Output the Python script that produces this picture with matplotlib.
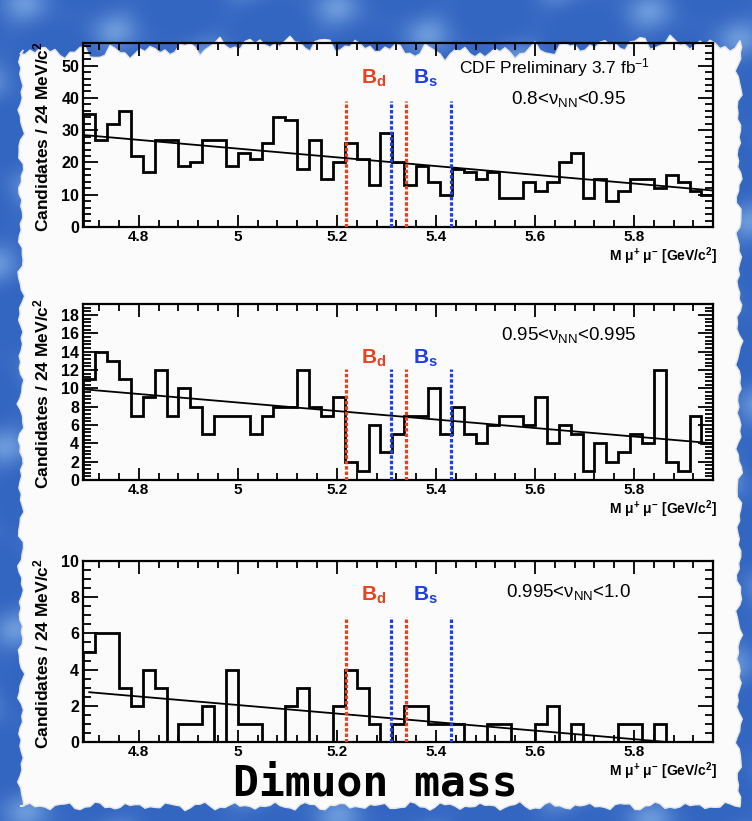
import numpy as np
import matplotlib
matplotlib.use("Agg")
import matplotlib.pyplot as plt
from matplotlib.ticker import MultipleLocator, FuncFormatter
from matplotlib.patches import Polygon

plt.rcParams['font.family'] = ['Liberation Sans', 'DejaVu Sans']
plt.rcParams['mathtext.fontset'] = 'custom'
plt.rcParams['mathtext.rm'] = 'Liberation Sans'
plt.rcParams['mathtext.it'] = 'Liberation Sans:italic'
plt.rcParams['mathtext.bf'] = 'Liberation Sans:bold'

# ---- data -----------------------------------------------------------------
mass_low = 4.688          # GeV/c^2, lower edge of the histogram
bin_width = 0.024         # 24 MeV/c^2 bins
n_bins = 53

counts_low = [35, 27, 32, 36, 22, 17, 27, 27, 19, 20, 27, 27, 19, 23, 21, 26, 34, 33,
              18, 27, 15, 20, 26, 21, 13, 29, 20, 13, 19, 14, 10, 18, 17, 15, 17, 9,
              9, 14, 11, 14, 20, 23, 9, 15, 8, 11, 15, 15, 12, 16, 14, 11, 10]
counts_mid = [11, 14, 13, 11, 7, 9, 12, 7, 10, 8, 5, 7, 7, 7, 5, 7, 8, 8, 12, 8, 7, 9,
              2, 1, 6, 3, 5, 7, 7, 10, 5, 8, 5, 4, 6, 7, 7, 6, 9, 4, 6, 5, 1, 4, 2, 3,
              5, 4, 12, 2, 1, 7, 4]
counts_high = [5, 6, 6, 3, 2, 4, 3, 0, 1, 1, 2, 0, 4, 1, 1, 0, 0, 2, 3, 0, 0, 2, 4, 3,
               1, 0, 1, 2, 2, 1, 1, 1, 0, 0, 1, 1, 0, 0, 1, 2, 0, 1, 0, 0, 0, 1, 1, 0,
               1, 0, 0, 0, 0]

# background fits: value at each end of the fitted mass range
fit_range_low = [4.688, 5.960]
fit_low = [28.5, 11.3]
fit_range_mid = [4.688, 5.960]
fit_mid = [9.9, 4.0]
fit_range_high = [4.700, 5.866]
fit_high = [2.75, 0.0]

bd_window = [5.219, 5.339]
bs_window = [5.310, 5.430]

nn_labels = [r"0.8<$\mathregular{\nu_{NN}}$<0.95",
             r"0.95<$\mathregular{\nu_{NN}}$<0.995",
             r"0.995<$\mathregular{\nu_{NN}}$<1.0"]
header = r"CDF Preliminary 3.7 fb$^{\mathregular{-1}}$"
footer = "Dimuon mass"

# ---- figure ----------------------------------------------------------------
W, H = 752, 821
fig = plt.figure(figsize=(W / 100, H / 100), dpi=100)

# blue chalk-board backdrop
bg = fig.add_axes([0, 0, 1, 1])
bg.set_xlim(0, W)
bg.set_ylim(H, 0)
bg.axis('off')
yy, xx = np.mgrid[0:H, 0:W]
streak = (0.5 + 0.25 * np.sin(xx * 0.06 + yy * 0.031)
          + 0.25 * np.sin(xx * 0.021 - yy * 0.07 + 1.3))
base = np.array([0.20, 0.40, 0.76])
light = np.array([0.42, 0.60, 0.86])
img = base + (light - base) * (streak[..., None] ** 4)
bg.imshow(np.clip(img, 0, 1), extent=(0, W, H, 0), interpolation='bilinear')


def ragged(n, amp, ph):
    t = np.arange(n)
    return amp * (0.5 * np.sin(0.9 * t + ph) + 0.3 * np.sin(2.3 * t + 2 * ph)
                  + 0.2 * np.sin(5.1 * t + 3 * ph))


# torn sheet of paper
xs_top = np.arange(20, 741, 5)
top = np.column_stack([xs_top, 48 + ragged(len(xs_top), 9, 0.3)
                       + 5 * np.sin(xs_top / 60.0)])
ys_right = np.arange(47, 808, 6)
right = np.column_stack([739 + ragged(len(ys_right), 4, 1.1), ys_right])
xs_bot = np.arange(740, 19, -5)
bottom = np.column_stack([xs_bot, 806 + ragged(len(xs_bot), 5, 2.2)])
ys_left = np.arange(806, 46, -6)
left = np.column_stack([21 + ragged(len(ys_left), 4, 0.7), ys_left])
paper = Polygon(np.vstack([top, right, bottom, left]), closed=True,
                facecolor='#fbfbfb', edgecolor='#e6e6e6', lw=1.0, zorder=2)
bg.add_patch(paper)

red = '#e5431f'
blue = '#1f3fe0'

panels = [
    dict(counts=counts_low, fit_x=fit_range_low, fit=fit_low, ymax=57,
         major=10, minor=2, top=43, height=184, line_top=39, blab=46,
         nn=nn_labels[0], nn_y=39.5, header_y=49.5),
    dict(counts=counts_mid, fit_x=fit_range_mid, fit=fit_mid, ymax=19.2,
         major=2, minor=0.4, top=304, height=176, line_top=12.1, blab=13.3,
         nn=nn_labels[1], nn_y=15.8, header_y=None),
    dict(counts=counts_high, fit_x=fit_range_high, fit=fit_high, ymax=10,
         major=2, minor=0.5, top=561, height=181, line_top=6.9, blab=8.1,
         nn=nn_labels[2], nn_y=8.3, header_y=None),
]

ax_left, ax_width = 83.3, 630.0
edges = mass_low + bin_width * np.arange(n_bins + 1)
mass_high = edges[-1]

for p in panels:
    ax = fig.add_axes([ax_left / W, 1 - (p['top'] + p['height']) / H,
                       ax_width / W, p['height'] / H], zorder=3)
    ax.set_facecolor('none')
    ax.set_xlim(mass_low, mass_high)
    ax.set_ylim(0, p['ymax'])

    ax.stairs(p['counts'], edges, color='black', lw=2.0, zorder=4)
    ax.plot(p['fit_x'], p['fit'], color='black', lw=1.3, zorder=5)

    for xv in bd_window:
        ax.plot([xv, xv], [0, p['line_top']], color=red, lw=2.3,
                linestyle=(0, (1.1, 0.6)), zorder=6)
    for xv in bs_window:
        ax.plot([xv, xv], [0, p['line_top']], color=blue, lw=2.3,
                linestyle=(0, (1.1, 0.6)), zorder=6)
    ax.text(np.mean(bd_window) - 0.004, p['blab'], r"$\mathbf{B_{d}}$", color=red,
            fontsize=15, ha='center', va='center')
    ax.text(np.mean(bs_window) + 0.008, p['blab'], r"$\mathbf{B_{s}}$", color=blue,
            fontsize=15, ha='center', va='center')

    ax.text(5.668, p['nn_y'], p['nn'], fontsize=13.5, ha='center', va='center')
    if p['header_y'] is not None:
        ax.text(5.64, p['header_y'], header, fontsize=12.5, ha='center', va='center')

    ax.xaxis.set_major_locator(MultipleLocator(0.2))
    ax.xaxis.set_minor_locator(MultipleLocator(0.04))
    ax.xaxis.set_major_formatter(FuncFormatter(lambda v, _: f"{v:g}"))
    ax.yaxis.set_major_locator(MultipleLocator(p['major']))
    ax.yaxis.set_minor_locator(MultipleLocator(p['minor']))
    ax.yaxis.set_major_formatter(FuncFormatter(lambda v, _: f"{v:g}"))
    ax.tick_params(axis='both', which='both', direction='in', top=True, right=True,
                   width=1.3, colors='black')
    ax.tick_params(axis='y', which='major', length=11, pad=3)
    ax.tick_params(axis='y', which='minor', length=5.5)
    ax.tick_params(axis='x', which='major', length=9, pad=2)
    ax.tick_params(axis='x', which='minor', length=5)
    for lab in ax.get_xticklabels():
        lab.set_fontweight('bold')
        lab.set_fontsize(11)
    for lab in ax.get_yticklabels():
        lab.set_fontweight('bold')
        lab.set_fontsize(11.5)
    for s in ax.spines.values():
        s.set_linewidth(1.6)

    bottom_px = p['top'] + p['height']
    fig.text(717 / W, 1 - (bottom_px + 29) / H,
             r"$\mathbf{M\ \mu^{+}\ \mu^{-}\ [GeV/c^{2}]}$",
             fontsize=10, ha='right', va='center', zorder=4)
    fig.text(41 / W, 1 - (p['top'] + p['height'] / 2 + 2) / H,
             r"$\mathbf{Candidates\ /\ 24\ MeV/c^{2}}$",
             fontsize=12.5, rotation=90, ha='center', va='center', zorder=4)

fig.text(375 / W, 1 - 783 / H, footer, family='DejaVu Sans Mono', fontweight='bold',
         fontsize=31, ha='center', va='center', zorder=4)

fig.savefig("out.png", dpi=100)
